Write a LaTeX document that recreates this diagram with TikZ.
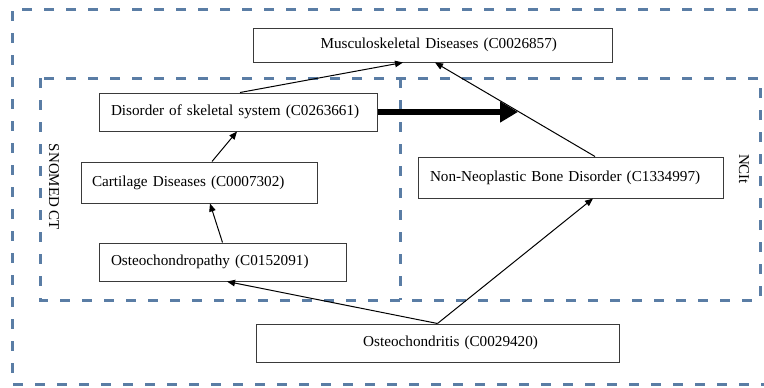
\documentclass[tikz,border=0pt]{standalone}
\usepackage{fontspec}
\setmainfont{Liberation Serif}
\usetikzlibrary{arrows.meta}
\definecolor{dashblue}{HTML}{5A7DA5}
\definecolor{boxline}{HTML}{3A3A3A}
\tikzset{
  region/.style={draw=dashblue, line width=3pt, dash pattern=on 10pt off 12pt},
  cbox/.style={draw=boxline, line width=1pt, fill=white, inner ysep=0pt,
    font=\fontsize{15.2}{18}\selectfont},
  lbox/.style={cbox, align=left},
  rbox/.style={cbox, align=right},
  rel/.style={-{Triangle[length=8pt,width=6.5pt]}, line width=1pt, black},
  bigrel/.style={-{Triangle[length=18pt,width=20pt]}, line width=6pt, black},
  side/.style={rotate=-90, font=\fontsize{15}{18}\selectfont, inner sep=0pt}
}
\begin{document}
\begin{tikzpicture}[x=1pt,y=-1pt]
\useasboundingbox (0,0) rectangle (764,388);
\begin{scope}
\clip (0,0) rectangle (764,388);
\draw[region] (780,9) -- (12,9) -- (12,384) -- (780,384);
\end{scope}
\draw[region] (40,78) rectangle (760,300);
\draw[region] (400,78) -- (400,300);

\node[side] (snomed) at (54,187) {SNOMED CT};
\node[side] (ncit) at (744,169) {NCIt};

\node[rbox, inner xsep=55pt, text width=249pt, minimum height=34pt] (musc) at (432.5,45) {Musculoskeletal Diseases (C0026857)};
\node[lbox, inner xsep=12pt, text width=254pt, minimum height=38pt] (dis) at (238,112) {Disorder of skeletal system (C0263661)};
\node[lbox, inner xsep=11pt, text width=214pt, minimum height=41pt] (cart) at (199,182.5) {Cartilage Diseases (C0007302)};
\node[lbox, inner xsep=12pt, text width=223pt, minimum height=38pt] (ostp) at (222.5,262) {Osteochondropathy (C0152091)};
\node[lbox, inner xsep=12pt, text width=281pt, minimum height=41pt] (nonneo) at (570.5,177.5) {Non-Neoplastic Bone Disorder (C1334997)};
\node[rbox, inner xsep=81pt, text width=201pt, minimum height=38pt] (ostc) at (437.5,343) {Osteochondritis (C0029420)};

\coordinate (bigend) at (518,112);

\draw[rel] ([xshift=2pt]dis.north) -- ([xshift=-29.5pt]musc.south);
\draw[rel] ([xshift=24.5pt]nonneo.north) -- ([xshift=2.5pt]musc.south);
\draw[rel] ([xshift=13pt]cart.north) -- ([xshift=-1pt]dis.south);
\draw[rel] (ostp.north) -- ([xshift=11pt]cart.south);
\draw[rel] (ostc.north) -- ([xshift=4.5pt]ostp.south);
\draw[rel] (ostc.north) -- ([xshift=22.5pt]nonneo.south);
\draw[bigrel] (dis.east) -- (bigend);
\end{tikzpicture}
\end{document}
